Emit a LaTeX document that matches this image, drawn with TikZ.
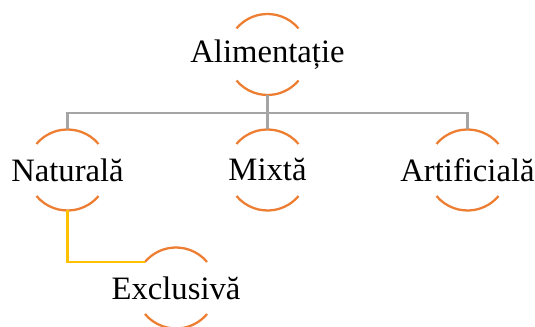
\documentclass[tikz,border=0pt]{standalone}
\usepackage{fontspec}
\setmainfont{Liberation Serif}
\definecolor{arcorange}{HTML}{ED7D31}
\definecolor{linkgray}{HTML}{A5A5A5}
\definecolor{linkgold}{HTML}{FFC000}
\begin{document}
\begin{tikzpicture}[x=0.75pt,y=0.75pt,
  ring/.style={circle,minimum size=60.75pt,inner sep=0pt,outer sep=0pt,draw=none},
  lbl/.style={inner sep=0pt,font=\fontsize{24.5}{28}\selectfont,text=black},
  arcst/.style={draw=arcorange,line width=1.7pt},
  graylink/.style={draw=linkgray,line width=1.6pt},
  goldlink/.style={draw=linkgold,line width=1.6pt}]
\useasboundingbox (0,0) rectangle (535,327);
% circles (invisible) and labels
\node[ring] (A)  at (267.5,272.5) {};
\node[ring] (N)  at (67.5,157) {};
\node[ring] (M)  at (267.5,157) {};
\node[ring] (R)  at (467.5,157) {};
\node[ring] (E)  at (176,39) {};
\node[lbl] (At) at (A) {Alimentație};
\node[lbl] (Nt) at (N) {Naturală};
\node[lbl] (Mt) at (M) {Mixtă};
\node[lbl] (Rt) at (R) {Artificială};
\node[lbl] (Et) at (E) {Exclusivă};
% arcs
\foreach \n in {A,N,M,R,E}{
  \draw[arcst] (\n.40) arc[start angle=40,end angle=140,radius=30.375pt];
  \draw[arcst] (\n.220) arc[start angle=220,end angle=320,radius=30.375pt];
}
% connectors
\coordinate (bus) at (267.5,214);
\draw[graylink] (A.south) -- (M.north);
\draw[graylink] (N.north) |- (bus);
\draw[graylink] (R.north) |- (bus);
\draw[goldlink] (N.south) |- (E.140);
\end{tikzpicture}
\end{document}
